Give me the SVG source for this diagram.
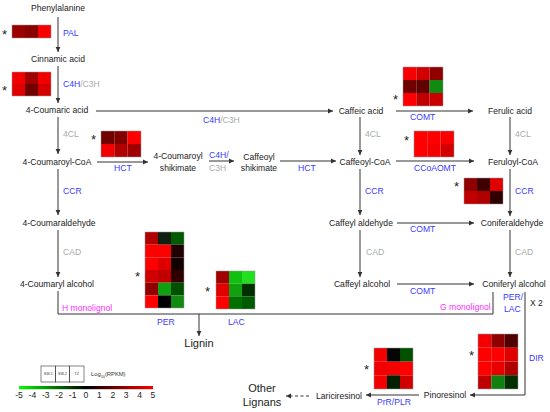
<svg xmlns="http://www.w3.org/2000/svg" width="550" height="412" viewBox="0 0 550 412">
<defs>
<style>
text{font-family:"Liberation Sans",Arial,sans-serif;font-size:8.6px;fill:#222}
.e{fill:#3a3aff}
.g{fill:#a8aca8}
.m{fill:#ff30ff}
.big{font-size:11px}
.ast{font-size:13px;fill:#222}
.ln{stroke:#333;stroke-width:1;fill:none}
.ar{stroke:#333;stroke-width:1;fill:none;marker-end:url(#ah)}
.hb{fill:none;stroke:#999;stroke-width:0.5}
.tk{font-size:5.8px;fill:#333}
.tn{font-size:3.6px;fill:#333}
</style>
<marker id="ah" markerWidth="6" markerHeight="6" refX="5" refY="3" orient="auto" markerUnits="userSpaceOnUse">
<path d="M0,0.6 L5,3 L0,5.4 Z" fill="#333"/>
</marker>
<linearGradient id="grad" x1="0" x2="1" y1="0" y2="0">
<stop offset="0" stop-color="#00ff00"/>
<stop offset="0.5" stop-color="#000000"/>
<stop offset="1" stop-color="#ff0000"/>
</linearGradient>
</defs>
<rect width="550" height="412" fill="#ffffff"/>

<g id="connectors">
<line class="ar" x1="58" y1="17" x2="58" y2="52"/>
<line class="ar" x1="58" y1="66" x2="58" y2="103"/>
<line class="ar" x1="58" y1="117" x2="58" y2="154"/>
<line class="ar" x1="58" y1="169" x2="58" y2="215"/>
<line class="ar" x1="58" y1="230" x2="58" y2="277"/>
<line class="ar" x1="360" y1="117" x2="360" y2="155"/>
<line class="ar" x1="360" y1="169" x2="360" y2="215"/>
<line class="ar" x1="360" y1="230" x2="360" y2="277"/>
<line class="ar" x1="510" y1="117" x2="510" y2="155"/>
<line class="ar" x1="510" y1="169" x2="510" y2="216"/>
<line class="ar" x1="510" y1="230" x2="510" y2="277"/>
<line class="ar" x1="96" y1="111" x2="333" y2="111"/>
<line class="ar" x1="97" y1="162" x2="148" y2="162"/>
<line class="ar" x1="209" y1="161" x2="234" y2="161"/>
<line class="ar" x1="280" y1="161" x2="336" y2="161"/>
<line class="ar" x1="396" y1="111" x2="473" y2="111"/>
<line class="ar" x1="396" y1="161" x2="474" y2="161"/>
<line class="ar" x1="397" y1="223" x2="474" y2="223"/>
<line class="ar" x1="397" y1="284" x2="474" y2="284"/>
<polyline class="ln" points="58,291 58,314 493,314 493,292"/>
<line class="ar" x1="199" y1="314" x2="199" y2="336"/>
<polyline class="ar" points="525,292 525,395 470,395"/>
<line class="ar" x1="419" y1="395" x2="366" y2="395"/>
<line class="ar" x1="309" y1="396" x2="286" y2="396" stroke-dasharray="3,2.5"/>
</g>

<g id="n-phenylalanine"><text x="58" y="11" text-anchor="middle">Phenylalanine</text></g>
<g id="n-cinnamic"><text x="58" y="62" text-anchor="middle">Cinnamic acid</text></g>
<g id="n-coumaric"><text x="57" y="113" text-anchor="middle">4-Coumaric acid</text></g>
<g id="n-coumaroylcoa"><text x="57" y="165" text-anchor="middle">4-Coumaroyl-CoA</text></g>
<g id="n-coumaraldehyde"><text x="59" y="226" text-anchor="middle">4-Coumaraldehyde</text></g>
<g id="n-coumarylalcohol"><text x="57" y="287" text-anchor="middle">4-Coumaryl alcohol</text></g>
<g id="n-coumaroylshik"><text x="178" y="159" text-anchor="middle">4-Coumaroyl</text><text x="178" y="171" text-anchor="middle">shikimate</text></g>
<g id="n-caffeoylshik"><text x="259" y="160" text-anchor="middle">Caffeoyl</text><text x="259" y="171" text-anchor="middle">shikimate</text></g>
<g id="n-caffeic"><text x="361" y="114" text-anchor="middle">Caffeic acid</text></g>
<g id="n-caffeoylcoa"><text x="365" y="165" text-anchor="middle">Caffeoyl-CoA</text></g>
<g id="n-caffeylald"><text x="361" y="226" text-anchor="middle">Caffeyl aldehyde</text></g>
<g id="n-caffeylalc"><text x="362" y="287" text-anchor="middle">Caffeyl alcohol</text></g>
<g id="n-ferulic"><text x="510" y="114" text-anchor="middle">Ferulic acid</text></g>
<g id="n-feruloylcoa"><text x="513" y="165" text-anchor="middle">Feruloyl-CoA</text></g>
<g id="n-coniferald"><text x="512" y="226" text-anchor="middle">Coniferaldehyde</text></g>
<g id="n-coniferalc"><text x="514" y="287" text-anchor="middle">Coniferyl alcohol</text></g>
<g id="n-lignin"><text class="big" x="199" y="347" text-anchor="middle">Lignin</text></g>
<g id="n-pinoresinol"><text x="445" y="398" text-anchor="middle">Pinoresinol</text></g>
<g id="n-lariciresinol"><text x="339" y="399" text-anchor="middle">Lariciresinol</text></g>
<g id="n-otherlignans"><text class="big" x="262" y="392" text-anchor="middle">Other</text><text class="big" x="262" y="406" text-anchor="middle">Lignans</text></g>

<g id="labels">
<text class="e" x="63" y="36">PAL</text>
<text x="63" y="87"><tspan class="e">C4H</tspan><tspan class="g">/C3H</tspan></text>
<text class="g" x="63" y="137">4CL</text>
<text class="e" x="63" y="194">CCR</text>
<text class="g" x="63" y="255">CAD</text>
<text x="203" y="123"><tspan class="e">C4H</tspan><tspan class="g">/C3H</tspan></text>
<text class="e" x="114" y="171">HCT</text>
<text class="e" x="209" y="158">C4H/</text>
<text class="g" x="209" y="171">C3H</text>
<text class="e" x="298" y="171">HCT</text>
<text class="g" x="365" y="137">4CL</text>
<text class="e" x="365" y="194">CCR</text>
<text class="g" x="366" y="255">CAD</text>
<text class="e" x="410" y="120">COMT</text>
<text class="e" x="414" y="171">CCoAOMT</text>
<text class="e" x="410" y="232">COMT</text>
<text class="e" x="410" y="294">COMT</text>
<text class="g" x="515" y="137">4CL</text>
<text class="e" x="515" y="194">CCR</text>
<text class="g" x="515" y="255">CAD</text>
<text class="e" x="503" y="300">PER/</text>
<text class="e" x="504" y="312">LAC</text>
<text x="530" y="306">X 2</text>
<text class="e" x="529" y="361">DIR</text>
<text class="e" x="157" y="325">PER</text>
<text class="e" x="228" y="325">LAC</text>
<text class="m" x="62" y="311">H monolignol</text>
<text class="m" x="440" y="310">G monolignol</text>
<text class="e" x="377" y="405">PrR/PLR</text>
</g>

<g id="hm-pal">
<rect x="12" y="25" width="13" height="13" fill="#9a0000"/><rect x="25" y="25" width="13" height="13" fill="#880000"/><rect x="38" y="25" width="13" height="13" fill="#f80000"/>
<rect class="hb" x="12" y="25" width="39" height="13"/>
<text class="ast" x="2" y="39">*</text>
</g>
<g id="hm-c4h">
<rect x="12" y="72" width="13" height="12" fill="#f20000"/><rect x="25" y="72" width="13" height="12" fill="#a00000"/><rect x="38" y="72" width="13" height="12" fill="#f20000"/>
<rect x="12" y="84" width="13" height="12" fill="#e00000"/><rect x="25" y="84" width="13" height="12" fill="#700000"/><rect x="38" y="84" width="13" height="12" fill="#d40000"/>
<rect class="hb" x="12" y="72" width="39" height="24"/>
<text class="ast" x="2" y="95">*</text>
</g>
<g id="hm-hct">
<rect x="101" y="131" width="13.3" height="13" fill="#700000"/><rect x="114.3" y="131" width="13.3" height="13" fill="#800000"/><rect x="127.6" y="131" width="13.4" height="13" fill="#ff0000"/>
<rect x="101" y="144" width="13.3" height="13" fill="#f00000"/><rect x="114.3" y="144" width="13.3" height="13" fill="#b00000"/><rect x="127.6" y="144" width="13.4" height="13" fill="#a00000"/>
<rect class="hb" x="101" y="131" width="40" height="26"/>
<text class="ast" x="91" y="144">*</text>
</g>
<g id="hm-comt">
<rect x="403" y="67" width="13.3" height="13" fill="#f80000"/><rect x="416.3" y="67" width="13.3" height="13" fill="#d00000"/><rect x="429.6" y="67" width="13.4" height="13" fill="#900000"/>
<rect x="403" y="80" width="13.3" height="13" fill="#700000"/><rect x="416.3" y="80" width="13.3" height="13" fill="#600000"/><rect x="429.6" y="80" width="13.4" height="13" fill="#108a10"/>
<rect x="403" y="93" width="13.3" height="13" fill="#ff0000"/><rect x="416.3" y="93" width="13.3" height="13" fill="#c00000"/><rect x="429.6" y="93" width="13.4" height="13" fill="#c80000"/>
<rect class="hb" x="403" y="67" width="40" height="39"/>
<text class="ast" x="393" y="104">*</text>
</g>
<g id="hm-ccoaomt">
<rect x="414" y="131" width="13.3" height="13" fill="#ff0000"/><rect x="427.3" y="131" width="13.3" height="13" fill="#ff0000"/><rect x="440.6" y="131" width="13.4" height="13" fill="#f80000"/>
<rect x="414" y="144" width="13.3" height="13" fill="#ff0000"/><rect x="427.3" y="144" width="13.3" height="13" fill="#f40000"/><rect x="440.6" y="144" width="13.4" height="13" fill="#d40000"/>
<rect class="hb" x="414" y="131" width="40" height="26"/>
<text class="ast" x="404" y="145">*</text>
</g>
<g id="hm-ccr">
<rect x="464" y="178" width="13" height="13" fill="#900000"/><rect x="477" y="178" width="13" height="13" fill="#400000"/><rect x="490" y="178" width="13" height="13" fill="#e00000"/>
<rect x="464" y="191" width="13" height="13" fill="#c00000"/><rect x="477" y="191" width="13" height="13" fill="#b00000"/><rect x="490" y="191" width="13" height="13" fill="#300000"/>
<rect class="hb" x="464" y="178" width="39" height="26"/>
<text class="ast" x="454" y="191">*</text>
</g>
<g id="hm-per">
<rect x="145" y="232" width="13" height="12.7" fill="#b00000"/><rect x="158" y="232" width="13" height="12.7" fill="#102010"/><rect x="171" y="232" width="13" height="12.7" fill="#005a00"/>
<rect x="145" y="244.7" width="13" height="12.7" fill="#ff0000"/><rect x="158" y="244.7" width="13" height="12.7" fill="#ff0000"/><rect x="171" y="244.7" width="13" height="12.7" fill="#200000"/>
<rect x="145" y="257.4" width="13" height="12.6" fill="#ff0000"/><rect x="158" y="257.4" width="13" height="12.6" fill="#e00000"/><rect x="171" y="257.4" width="13" height="12.6" fill="#100000"/>
<rect x="145" y="270" width="13" height="12.7" fill="#d00000"/><rect x="158" y="270" width="13" height="12.7" fill="#c00000"/><rect x="171" y="270" width="13" height="12.7" fill="#300000"/>
<rect x="145" y="282.7" width="13" height="12.7" fill="#900000"/><rect x="158" y="282.7" width="13" height="12.7" fill="#10a010"/><rect x="171" y="282.7" width="13" height="12.7" fill="#005000"/>
<rect x="145" y="295.4" width="13" height="12.6" fill="#ff0000"/><rect x="158" y="295.4" width="13" height="12.6" fill="#000000"/><rect x="171" y="295.4" width="13" height="12.6" fill="#108a10"/>
<rect class="hb" x="145" y="232" width="39" height="76"/>
<text class="ast" x="135" y="281">*</text>
</g>
<g id="hm-lac">
<rect x="216" y="271" width="13" height="12.7" fill="#a00000"/><rect x="229" y="271" width="13" height="12.7" fill="#10c010"/><rect x="242" y="271" width="13" height="12.7" fill="#20e020"/>
<rect x="216" y="283.7" width="13" height="12.6" fill="#e00000"/><rect x="229" y="283.7" width="13" height="12.6" fill="#10a010"/><rect x="242" y="283.7" width="13" height="12.6" fill="#003000"/>
<rect x="216" y="296.3" width="13" height="12.7" fill="#ff0000"/><rect x="229" y="296.3" width="13" height="12.7" fill="#007000"/><rect x="242" y="296.3" width="13" height="12.7" fill="#005a00"/>
<rect class="hb" x="216" y="271" width="39" height="38"/>
<text class="ast" x="205" y="296">*</text>
</g>
<g id="hm-dir">
<rect x="478" y="334" width="13.3" height="13.75" fill="#f40000"/><rect x="491.3" y="334" width="13.3" height="13.75" fill="#900000"/><rect x="504.6" y="334" width="13.4" height="13.75" fill="#500000"/>
<rect x="478" y="347.75" width="13.3" height="13.75" fill="#ff0000"/><rect x="491.3" y="347.75" width="13.3" height="13.75" fill="#ff0000"/><rect x="504.6" y="347.75" width="13.4" height="13.75" fill="#e00000"/>
<rect x="478" y="361.5" width="13.3" height="13.75" fill="#ff0000"/><rect x="491.3" y="361.5" width="13.3" height="13.75" fill="#e80000"/><rect x="504.6" y="361.5" width="13.4" height="13.75" fill="#b00000"/>
<rect x="478" y="375.25" width="13.3" height="13.75" fill="#c00000"/><rect x="491.3" y="375.25" width="13.3" height="13.75" fill="#108010"/><rect x="504.6" y="375.25" width="13.4" height="13.75" fill="#003000"/>
<rect class="hb" x="478" y="334" width="40" height="55"/>
<text class="ast" x="469" y="360">*</text>
</g>
<g id="hm-prr">
<rect x="374" y="348" width="13" height="13.7" fill="#f40000"/><rect x="387" y="348" width="13" height="13.7" fill="#050505"/><rect x="400" y="348" width="13" height="13.7" fill="#005000"/>
<rect x="374" y="361.7" width="13" height="13.6" fill="#f00000"/><rect x="387" y="361.7" width="13" height="13.6" fill="#f40000"/><rect x="400" y="361.7" width="13" height="13.6" fill="#ff0000"/>
<rect x="374" y="375.3" width="13" height="13.7" fill="#f40000"/><rect x="387" y="375.3" width="13" height="13.7" fill="#002000"/><rect x="400" y="375.3" width="13" height="13.7" fill="#d00000"/>
<rect class="hb" x="374" y="348" width="39" height="41"/>
<text class="ast" x="364" y="374">*</text>
</g>

<g id="legend">
<rect x="41" y="366" width="14.3" height="16" fill="none" stroke="#333" stroke-width="0.6"/>
<rect x="55.3" y="366" width="14.3" height="16" fill="none" stroke="#333" stroke-width="0.6"/>
<rect x="69.6" y="366" width="14.4" height="16" fill="none" stroke="#333" stroke-width="0.6"/>
<text class="tn" x="48.2" y="375.3" text-anchor="middle">SW-1</text>
<text class="tn" x="62.5" y="375.3" text-anchor="middle">SW-2</text>
<text class="tn" x="76.8" y="375.3" text-anchor="middle">TZ</text>
<text class="tk" x="91" y="376">Log<tspan font-size="3.8px" dy="1.5">10</tspan><tspan dy="-1.5">(RPKM)</tspan></text>
<rect x="19" y="386" width="134" height="3.2" fill="url(#grad)"/>
<g class="tk" text-anchor="middle">
<text x="19" y="398">-5</text><text x="32.4" y="398">-4</text><text x="45.8" y="398">-3</text><text x="59.2" y="398">-2</text><text x="72.6" y="398">-1</text><text x="86" y="398">0</text><text x="99.4" y="398">1</text><text x="112.8" y="398">2</text><text x="126.2" y="398">3</text><text x="139.6" y="398">4</text><text x="153" y="398">5</text>
</g>
</g>
</svg>
